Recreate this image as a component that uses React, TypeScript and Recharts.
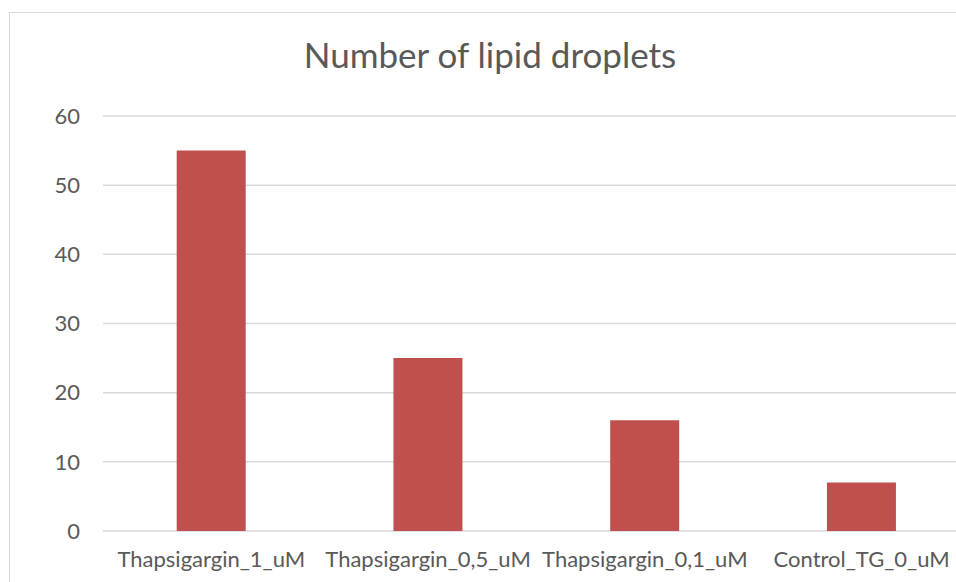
import React from 'react';
import { Bar, BarChart, CartesianGrid, XAxis, YAxis } from 'recharts';

const categories = ['Thapsigargin_1_uM', 'Thapsigargin_0,5_uM', 'Thapsigargin_0,1_uM', 'Control_TG_0_uM'];
const droplets = [55, 25, 16, 7];
const yTicks = [0, 10, 20, 30, 40, 50, 60];

const data = categories.map((name, i) => ({ name, value: droplets[i] }));

const font = 'Lato, "Open Sans", sans-serif';

export default function App() {
  return (
    <div style={{ position: 'absolute', left: 0, top: 0, width: 956, height: 582, overflow: 'hidden', background: '#fff' }}>
      {/* chart frame, cropped on right and bottom like the screenshot */}
      <div style={{ position: 'absolute', left: 9, top: 12, width: 1000, height: 600, border: '1px solid #d9d9d9', boxSizing: 'border-box' }} />
      <div
        style={{
          position: 'absolute', left: 240, width: 500, top: 32, textAlign: 'center',
          fontFamily: font, fontSize: 35, color: '#595959', lineHeight: '44px',
        }}
      >
        Number of lipid droplets
      </div>
      <div style={{ position: 'absolute', left: 0, top: 0 }}>
        <BarChart width={980} height={600} data={data} margin={{ top: 116, right: 10, left: 0, bottom: 0 }} barCategoryGap="34%">
          <CartesianGrid vertical={false} stroke="#d9d9d9" strokeWidth={1.5} />
          <XAxis
            dataKey="name"
            height={69}
            tickLine={false}
            axisLine={false}
            tickSize={0}
            tickMargin={20}
            interval={0}
            tick={{ fill: '#595959', fontSize: 22, fontFamily: font }}
          />
          <YAxis
            width={103}
            domain={[0, 60]}
            ticks={yTicks}
            tickLine={false}
            axisLine={false}
            tickSize={0}
            tickMargin={23}
            tick={{ fill: '#595959', fontSize: 22, fontFamily: font }}
          />
          <Bar dataKey="value" fill="#c0504d" isAnimationActive={false} />
        </BarChart>
      </div>
    </div>
  );
}
